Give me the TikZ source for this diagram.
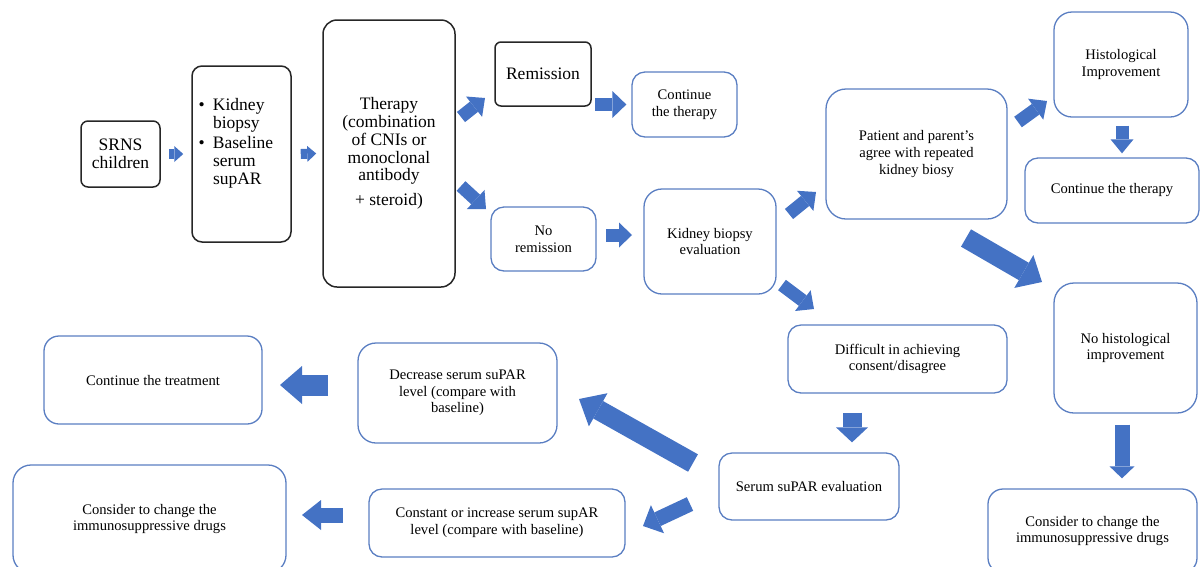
\documentclass[tikz,border=0pt]{standalone}
\usepackage{fontspec}
\setmainfont{Liberation Serif}
\usetikzlibrary{arrows.meta,calc}
\definecolor{arrowblue}{HTML}{4472C4}
\definecolor{boxblue}{HTML}{5A7EC2}
\definecolor{boxblack}{HTML}{262626}
\tikzset{
  bbox/.style={draw=boxblack, line width=1.5pt, fill=white, align=center, inner sep=0pt,
    font=\fontsize{17.5}{17.8}\selectfont},
  ubox/.style={draw=boxblue, line width=1.3pt, fill=white, align=center, inner sep=0pt,
    rounded corners=13pt, font=\fontsize{14.6}{16.7}\selectfont},
  barrow/.style n args={3}{draw=arrowblue, line width=#1, line cap=butt,
    -{Triangle[width=#2, length=#3, line width=0pt]}},
}
\begin{document}
\begin{tikzpicture}[x=1pt,y=-1pt]
\useasboundingbox (0,0) rectangle (1201,566);
\begin{scope}
\clip (0,0) rectangle (1201,566);
% black boxes
\node[bbox, rounded corners=7pt, minimum width=79pt, minimum height=66pt] (srns) at (120.5,154) {SRNS\\children};
\node[bbox, rounded corners=10pt, minimum width=99pt, minimum height=176pt] (kb) at (241.5,154)
  {\begin{minipage}[c][176pt][t]{99pt}\raggedright\fontsize{17.5}{18}\selectfont
   \vspace*{32pt}%
   \hspace*{6.5pt}\makebox[14.5pt][l]{\textbullet}Kidney\\
   \hspace*{21pt}biopsy\\[2.5pt]
   \hspace*{6.5pt}\makebox[14.5pt][l]{\textbullet}Baseline\\
   \hspace*{21pt}serum\\
   \hspace*{21pt}supAR
   \end{minipage}};
\node[bbox, rounded corners=14pt, minimum width=132pt, minimum height=267pt] (therapy) at (389,153.5)
  {Therapy\\(combination\\of CNIs or\\monoclonal\\antibody\\[7pt]+ steroid)};
\node[bbox, rounded corners=6pt, minimum width=96pt, minimum height=64pt] (rem) at (543,74) {Remission};
% blue boxes
\node[ubox, minimum width=105pt, minimum height=65pt] (cont1) at (684.5,104.5) {Continue\\the therapy};
\node[ubox, minimum width=105pt, minimum height=64pt] (norem) at (543.5,239) {No\\remission};
\node[ubox, rounded corners=18pt, minimum width=132pt, minimum height=105pt] (kbe) at (710,241.5) {Kidney biopsy\\evaluation};
\node[ubox, rounded corners=20pt, minimum width=181pt, minimum height=130pt] (pat) at (916.5,154) {Patient and parent’s\\agree with repeated\\kidney biosy};
\node[ubox, rounded corners=18pt, minimum width=134pt, minimum height=105pt] (hist) at (1121,64.5) {Histological\\Improvement};
\node[ubox, minimum width=174pt, minimum height=65pt] (cont2) at (1112,190.5) {Continue the therapy};
\node[ubox, rounded corners=20pt, minimum width=143pt, minimum height=130pt] (nohist) at (1125.5,348) {No histological\\improvement};
\node[ubox, rounded corners=15pt, minimum width=209pt, minimum height=84pt] (consR) at (1092.5,531) {Consider to change the\\immunosuppressive drugs};
\node[ubox, minimum width=219pt, minimum height=68pt] (diff) at (897.5,359) {Difficult in achieving\\consent/disagree};
\node[ubox, minimum width=180pt, minimum height=67pt] (serum) at (809,486.5) {Serum suPAR evaluation};
\node[ubox, rounded corners=18pt, minimum width=199pt, minimum height=100pt] (decr) at (457.5,393) {Decrease serum suPAR\\level (compare with\\baseline)};
\node[ubox, minimum width=256pt, minimum height=68pt] (constant) at (497,523) {Constant or increase serum supAR\\level (compare with baseline)};
\node[ubox, rounded corners=15pt, minimum width=218pt, minimum height=88pt] (contT) at (153,380) {Continue the treatment};
\node[ubox, rounded corners=18pt, minimum width=273pt, minimum height=108pt] (consL) at (149.5,519) {Consider to change the\\immunosuppressive drugs};
% arrow end points
\coordinate (a3t) at (461,117);  \coordinate (a3h) at (485,98);
\coordinate (a4t) at (461,186);  \coordinate (a4h) at (486,209);
\coordinate (a6t) at (606,235);  \coordinate (a6h) at (632,235);
\coordinate (a7t) at (789,214);  \coordinate (a7h) at (816,192);
\coordinate (a8t) at (782,285);  \coordinate (a8h) at (814,309);
\coordinate (a9t) at (1018,122); \coordinate (a9h) at (1047,101);
\coordinate (a11t) at (966,238); \coordinate (a11h) at (1042,282);
\coordinate (a14t) at (693,463); \coordinate (a14h) at (579,399);
\coordinate (a15t) at (690,504); \coordinate (a15h) at (643,526);
\coordinate (a16t) at (328,385); \coordinate (a16h) at (280,385);
\coordinate (a17t) at (343,515); \coordinate (a17h) at (302,515);
% arrows
\draw[barrow={10pt}{16pt}{9pt}] ($(srns.east)+(8,0)$) -- ($(kb.west)+(-8,0)$);
\draw[barrow={10pt}{16pt}{9pt}] ($(kb.east)+(9,0)$) -- ($(therapy.west)+(-6,0)$);
\draw[barrow={13pt}{26pt}{14pt}] (a3t) -- (a3h);
\draw[barrow={13pt}{26pt}{14pt}] (a4t) -- (a4h);
\draw[barrow={13pt}{27pt}{14pt}] ($(cont1.west)+(-36,0)$) -- ($(cont1.west)+(-5,0)$);
\draw[barrow={13pt}{25pt}{13pt}] (a6t) -- (a6h);
\draw[barrow={13pt}{26pt}{14pt}] (a7t) -- (a7h);
\draw[barrow={13pt}{26pt}{14pt}] (a8t) -- (a8h);
\draw[barrow={13pt}{26pt}{14pt}] (a9t) -- (a9h);
\draw[barrow={13pt}{23pt}{14pt}] ($(hist.south)+(1,8)$) -- ($(cont2.north)+(10,-4)$);
\draw[barrow={20pt}{38pt}{21pt}] (a11t) -- (a11h);
\draw[barrow={15pt}{25pt}{12pt}] ($(nohist.south)+(-3.5,11)$) -- ($(consR.north)+(29.5,-10)$);
\draw[barrow={19pt}{32pt}{15pt}] ($(diff.south)+(-45.5,19)$) -- ($(serum.north)+(43,-10)$);
\draw[barrow={20pt}{38pt}{22pt}] (a14t) -- (a14h);
\draw[barrow={15pt}{31pt}{16pt}] (a15t) -- (a15h);
\draw[barrow={21pt}{38pt}{22pt}] (a16t) -- (a16h);
\draw[barrow={15pt}{30pt}{19pt}] (a17t) -- (a17h);
\end{scope}
\end{tikzpicture}
\end{document}
